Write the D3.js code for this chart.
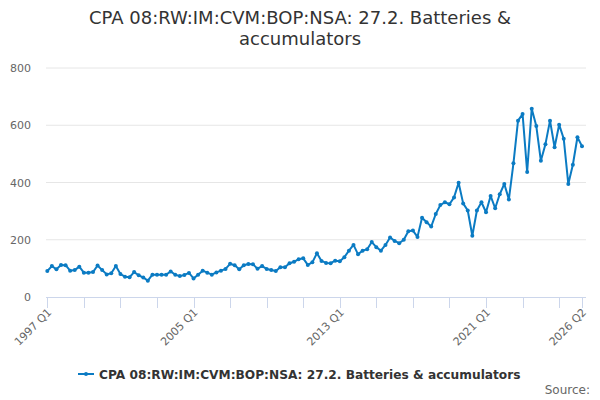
<!DOCTYPE html>
<html><head><meta charset="utf-8">
<script src="https://cdn.jsdelivr.net/npm/d3@7"></script>
<style>body{margin:0;background:#fff;font-family:"DejaVu Sans",sans-serif}</style>
</head><body><svg id="c" width="600" height="400"></svg>
<script>
const startYear = 1997;
const values = [91,108,97,112,111,92,94,106,85,85,87,110,94,79,83,108,80,71,69,87,
76,68,57,78,78,78,78,89,78,73,77,84,65,78,92,85,78,86,92,98,
116,111,97,111,115,114,99,108,98,94,91,104,104,118,123,132,135,112,121,153,
126,119,118,127,125,139,162,182,149,162,167,192,174,162,182,208,196,188,200,230,
232,210,277,261,246,290,321,331,324,348,399,327,302,214,302,331,296,353,310,359,
395,341,467,616,639,437,658,597,476,534,616,523,602,553,395,462,558,527];
const categories = values.map((v,i)=> `${startYear+Math.floor(i/4)} Q${i%4+1}`);
const yTicks = [0,200,400,600,800];
const labelTicks = ["1997 Q1","2005 Q1","2013 Q1","2021 Q1","2026 Q2"];
const title = ["CPA 08:RW:IM:CVM:BOP:NSA: 27.2. Batteries &","accumulators"];
const seriesName = "CPA 08:RW:IM:CVM:BOP:NSA: 27.2. Batteries & accumulators";

const svg = d3.select("#c");
const color = "#0b7bc3";
const x = d3.scaleLinear().domain([0, values.length-1]).range([47.3, 582]);
const y = d3.scaleLinear().domain([0,800]).range([297,68]);

svg.selectAll("text.title").data(title).join("text")
  .attr("x",300).attr("y",(d,i)=>24+i*21).attr("text-anchor","middle")
  .attr("font-size",18).attr("fill","#333").text(d=>d);

// grid
const grid = svg.append("g");
grid.selectAll("line").data(yTicks.slice(1)).join("line")
  .attr("x1",46).attr("x2",586).attr("y1",d=>y(d)).attr("y2",d=>y(d))
  .attr("stroke","#e6e6e6");
svg.append("g").selectAll("text").data(yTicks).join("text")
  .attr("x",31).attr("y",d=>y(d)+4).attr("text-anchor","end")
  .attr("font-size",11).attr("fill","#666").text(d=>d);

// x axis
const tickIdx = d3.range(0, values.length, 8).concat([values.length-1]);
const xa = svg.append("g");
xa.append("line").attr("x1",46).attr("x2",586).attr("y1",297.5).attr("y2",297.5).attr("stroke","#ccd6eb");
xa.selectAll("line.t").data(tickIdx).join("line").attr("class","t")
  .attr("x1",d=>Math.round(x(d))+0.5).attr("x2",d=>Math.round(x(d))+0.5)
  .attr("y1",297).attr("y2",308).attr("stroke","#ccd6eb");
const lab = categories.map((c,i)=>({c,i})).filter(d=>labelTicks.includes(d.c));
xa.selectAll("text").data(lab).join("text")
  .attr("transform",d=>`translate(${x(d.i)+5},${313}) rotate(-45)`)
  .attr("text-anchor","end").attr("font-size",11).attr("fill","#666").text(d=>d.c);

// line
const line = d3.line().x((d,i)=>x(i)).y(d=>y(d));
svg.append("path").datum(values).attr("d",line).attr("fill","none")
  .attr("stroke",color).attr("stroke-width",2).attr("stroke-linejoin","round");
svg.append("g").selectAll("circle").data(values).join("circle")
  .attr("cx",(d,i)=>x(i)).attr("cy",d=>y(d)).attr("r",2).attr("fill",color);

// legend
const lg = svg.append("g");
lg.append("line").attr("x1",78).attr("x2",94).attr("y1",374).attr("y2",374).attr("stroke",color).attr("stroke-width",2);
lg.append("circle").attr("cx",86).attr("cy",374).attr("r",2).attr("fill",color);
lg.append("text").attr("x",99).attr("y",378.5).attr("font-size",12.2).attr("font-weight","bold")
  .attr("fill","#333").text(seriesName);
svg.append("text").attr("x",590).attr("y",394).attr("text-anchor","end")
  .attr("font-size",12).attr("fill","#666").text("Source:");
</script></body></html>
